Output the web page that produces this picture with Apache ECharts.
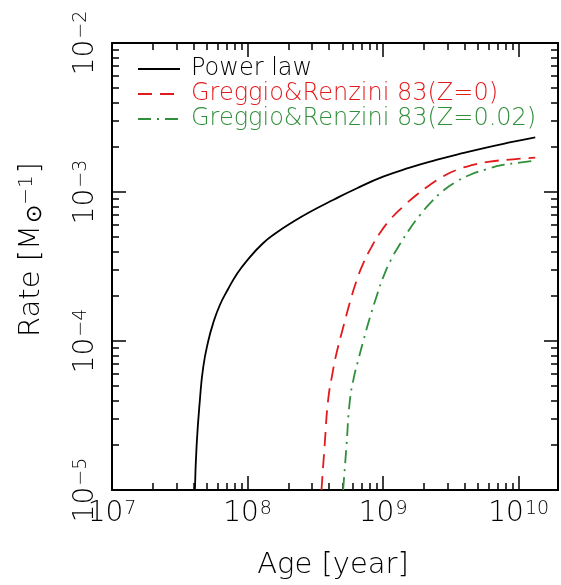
<!DOCTYPE html>
<html>
<head>
<meta charset="utf-8">
<title>Rate vs Age</title>
<script src="https://cdn.jsdelivr.net/npm/echarts@6/dist/echarts.min.js"></script>
<style>
html,body{margin:0;padding:0;background:#fff;}
#main{width:561px;height:585px;}
</style>
</head>
<body>
<div id="main"></div>
<script>
// values: age [year], rate [M_sun^-1]
var powerAge  = [4.09e7, 4.21e7, 4.45e7, 4.71e7, 5.13e7, 5.58e7, 6.25e7, 7.19e7, 8.30e7, 9.83e7, 1.30e8, 1.64e8, 2.17e8, 2.88e8, 4.27e8, 6.36e8, 1.0e9, 1.57e9, 2.47e9, 3.66e9, 5.45e9, 8.57e9, 1.325e10];
var powerRate = [1.0e-5, 2.0e-5, 4.02e-5, 6.69e-5, 1.0e-4, 1.32e-4, 1.744e-4, 2.234e-4, 2.794e-4, 3.44e-4, 4.53e-4, 5.35e-4, 6.32e-4, 7.34e-4, 8.84e-4, 1.056e-3, 1.267e-3, 1.456e-3, 1.64e-3, 1.80e-3, 1.965e-3, 2.15e-3, 2.33e-3];

var gr0Age  = [3.51e8, 3.71e8, 3.93e8, 4.23e8, 4.53e8, 5.07e8, 5.67e8, 6.36e8, 7.11e8, 8.20e8, 9.44e8, 1.12e9, 1.40e9, 1.76e9, 2.21e9, 2.76e9, 3.47e9, 4.60e9, 6.11e9, 9.06e9, 1.325e10];
var gr0Rate = [1.0e-5, 2.04e-5, 4.02e-5, 6.07e-5, 8.27e-5, 1.232e-4, 1.80e-4, 2.53e-4, 3.29e-4, 4.27e-4, 5.28e-4, 6.49e-4, 7.96e-4, 9.55e-4, 1.114e-3, 1.271e-3, 1.405e-3, 1.518e-3, 1.597e-3, 1.658e-3, 1.699e-3];

var gr02Age  = [5.07e8, 5.37e8, 5.67e8, 6.07e8, 6.53e8, 7.11e8, 7.97e8, 8.93e8, 1.0e9, 1.15e9, 1.325e9, 1.57e9, 1.86e9, 2.27e9, 2.76e9, 3.47e9, 4.35e9, 5.77e9, 7.65e9, 1.015e10, 1.325e10];
var gr02Rate = [1.0e-5, 2.0e-5, 3.90e-5, 5.64e-5, 7.34e-5, 9.85e-5, 1.427e-4, 1.983e-4, 2.67e-4, 3.55e-4, 4.44e-4, 5.64e-4, 6.96e-4, 8.57e-4, 1.016e-3, 1.172e-3, 1.30e-3, 1.42e-3, 1.518e-3, 1.572e-3, 1.622e-3];

var seriesNames = ['Power law', 'Greggio&Renzini 83(Z=0)', 'Greggio&Renzini 83(Z=0.02)'];
var xTickExp = [7, 8, 9, 10];
var yTickExp = [-5, -4, -3, -2];

var xMin = 7, xMax = 10.29;
var yMin = -5, yMax = -2;
var font = 'DejaVu Sans';
var weight = 200;

// log10 pairs for the value axes
function toLog(ages, rates){
    var out = [];
    for (var i = 0; i < ages.length; i++) {
        out.push([Math.log10(ages[i]), Math.log10(rates[i])]);
    }
    return out;
}

// minor ticks 2..9 inside each decade
function minorTicks(lo, hi){
    var t = [];
    for (var d = Math.floor(lo); d < hi; d++) {
        for (var k = 2; k <= 9; k++) {
            var v = d + Math.log10(k);
            if (v > lo && v < hi) t.push(v);
        }
    }
    return t;
}

var expRich = {
    b: {fontFamily: font, fontWeight: weight, fontSize: 28, lineHeight: 28, verticalAlign: 'bottom', color: '#000'},
    s: {fontFamily: font, fontWeight: weight, fontSize: 19, lineHeight: 19, verticalAlign: 'top', color: '#000', padding: [0, 0, 14, 1]}
};
function expLabel(v){
    return '{b|10}{s|' + String(v).replace('-', '\u2212') + '}';
}

function axis(dim, pos, grid, ticks, len, line, label){
    var isX = dim === 'x';
    return {
        type: 'value',
        gridIndex: grid,
        position: pos,
        min: isX ? xMin : yMin,
        max: isX ? xMax : yMax,
        splitLine: {show: false},
        axisLine: {show: line, onZero: false, lineStyle: {color: '#000', width: 2}},
        axisTick: {show: true, inside: true, length: len, customValues: ticks, lineStyle: {color: '#000', width: 1.5}},
        axisLabel: {show: label, customValues: ticks, formatter: expLabel, rich: expRich,
            margin: isX ? 10 : 12, rotate: isX ? 0 : 90}
    };
}

var myChart = echarts.init(document.getElementById('main'));

var xMajorTop = axis('x', 'top', 0, xTickExp, 14, true, false);
var xMajorBottom = axis('x', 'bottom', 0, xTickExp, 14, true, true);
xMajorBottom.name = 'Age [year]';
xMajorBottom.nameLocation = 'middle';
xMajorBottom.nameGap = 61;
xMajorBottom.nameTextStyle = {fontFamily: font, fontWeight: weight, fontSize: 29, color: '#000', padding: [0, 4, 0, 0]};

var yMajorLeft = axis('y', 'left', 0, yTickExp, 14, true, true);
yMajorLeft.name = 'Rate [M{sub|\u2299}{sup|\u22121}]';
yMajorLeft.nameLocation = 'middle';
yMajorLeft.nameRotate = 90;
yMajorLeft.nameGap = 66;
yMajorLeft.nameTextStyle = {
    fontFamily: font, fontWeight: weight, fontSize: 29, color: '#000', padding: [0, 0, 0, 34],
    rich: {
        sub: {fontFamily: font, fontWeight: weight, fontSize: 22, color: '#000', verticalAlign: 'bottom', lineHeight: 22, padding: [0, 0, 0, 2]},
        sup: {fontFamily: font, fontWeight: weight, fontSize: 20, color: '#000', verticalAlign: 'top', lineHeight: 20, padding: [0, 2, 16, 0]}
    }
};
var yMajorRight = axis('y', 'right', 0, yTickExp, 14, true, false);

var option = {
    animation: false,
    backgroundColor: '#fff',
    grid: [
        {left: 112, right: 3, top: 43, bottom: 95},
        {left: 112, right: 3, top: 43, bottom: 95}
    ],
    legend: {
        orient: 'vertical',
        left: 132,
        top: 52,
        itemWidth: 42,
        itemHeight: 14,
        itemGap: 1,
        itemStyle: {opacity: 0},
        textStyle: {fontFamily: font, fontWeight: weight, fontSize: 24, lineHeight: 24, padding: [0, 0, 0, 6]},
        data: [
            {name: seriesNames[0], textStyle: {color: '#000'}},
            {name: seriesNames[1], textStyle: {color: '#e31a1c'}},
            {name: seriesNames[2], textStyle: {color: '#2f8f3a'}}
        ]
    },
    xAxis: [
        xMajorBottom,
        xMajorTop,
        axis('x', 'bottom', 1, minorTicks(xMin, xMax), 7, false, false),
        axis('x', 'top', 1, minorTicks(xMin, xMax), 7, false, false)
    ],
    yAxis: [
        yMajorLeft,
        yMajorRight,
        axis('y', 'left', 1, minorTicks(yMin, yMax), 7, false, false),
        axis('y', 'right', 1, minorTicks(yMin, yMax), 7, false, false)
    ],
    series: [
        {
            name: seriesNames[0],
            type: 'line',
            xAxisIndex: 0, yAxisIndex: 0,
            symbol: 'none',
            smooth: 0.5,
            color: '#000',
            lineStyle: {color: '#000', width: 1.8},
            data: toLog(powerAge, powerRate)
        },
        {
            name: seriesNames[1],
            type: 'line',
            xAxisIndex: 0, yAxisIndex: 0,
            symbol: 'none',
            smooth: 0.5,
            color: '#e31a1c',
            lineStyle: {color: '#e31a1c', width: 1.8, type: [14, 8]},
            data: toLog(gr0Age, gr0Rate)
        },
        {
            name: seriesNames[2],
            type: 'line',
            xAxisIndex: 0, yAxisIndex: 0,
            symbol: 'none',
            smooth: 0.5,
            color: '#2f8f3a',
            lineStyle: {color: '#2f8f3a', width: 1.8, type: [13, 6, 2, 6]},
            data: toLog(gr02Age, gr02Rate)
        }
    ]
};
myChart.setOption(option);
</script>
</body>
</html>
